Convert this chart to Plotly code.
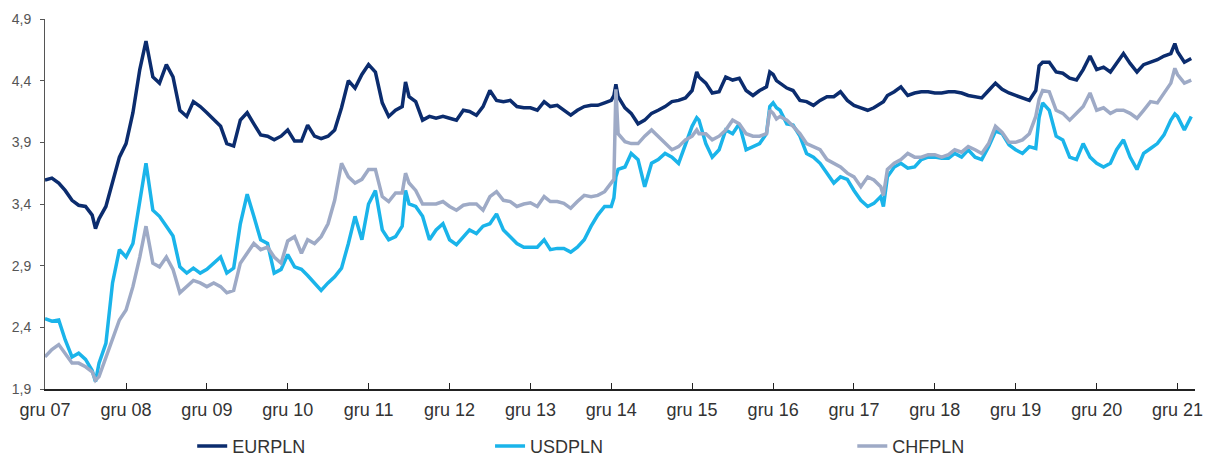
import plotly.graph_objects as go

# Observation dates (monthly, with a few extra mid-month points at sharp moves)
dates = [
    "2007-12-01",
    "2008-01-01", "2008-02-01", "2008-03-01", "2008-04-01", "2008-05-01", "2008-06-01",
    "2008-07-01", "2008-07-16", "2008-08-01", "2008-09-01", "2008-10-01", "2008-11-01", "2008-12-01",
    "2009-01-01", "2009-02-01", "2009-03-01", "2009-04-01", "2009-05-01", "2009-06-01",
    "2009-07-01", "2009-08-01", "2009-09-01", "2009-10-01", "2009-11-01", "2009-12-01",
    "2010-01-01", "2010-02-01", "2010-03-01", "2010-04-01", "2010-05-01", "2010-06-01",
    "2010-07-01", "2010-08-01", "2010-09-01", "2010-10-01", "2010-11-01", "2010-12-01",
    "2011-01-01", "2011-02-01", "2011-03-01", "2011-04-01", "2011-05-01", "2011-06-01",
    "2011-07-01", "2011-08-01", "2011-09-01", "2011-10-01", "2011-11-01", "2011-12-01",
    "2012-01-01", "2012-02-01", "2012-03-01", "2012-04-01", "2012-05-01", "2012-05-16", "2012-06-01",
    "2012-07-01", "2012-08-01", "2012-09-01", "2012-10-01", "2012-11-01", "2012-12-01",
    "2013-01-01", "2013-02-01", "2013-03-01", "2013-04-01", "2013-05-01", "2013-06-01",
    "2013-07-01", "2013-08-01", "2013-09-01", "2013-10-01", "2013-11-01", "2013-12-01",
    "2014-01-01", "2014-02-01", "2014-03-01", "2014-04-01", "2014-05-01", "2014-06-01",
    "2014-07-01", "2014-08-01", "2014-09-01", "2014-10-01", "2014-11-01", "2014-12-01",
    "2014-12-13", "2014-12-22",
    "2015-01-01", "2015-02-01", "2015-03-01", "2015-04-01", "2015-05-01", "2015-06-01",
    "2015-07-01", "2015-08-01", "2015-09-01", "2015-10-01", "2015-11-01", "2015-12-01", "2015-12-22",
    "2016-01-01", "2016-02-01", "2016-03-01", "2016-04-01", "2016-05-01", "2016-06-01",
    "2016-07-01", "2016-08-01", "2016-09-01", "2016-10-01", "2016-11-01", "2016-11-16",
    "2016-12-01", "2016-12-16",
    "2017-01-01", "2017-02-01", "2017-03-01", "2017-04-01", "2017-05-01", "2017-06-01",
    "2017-07-01", "2017-08-01", "2017-09-01", "2017-10-01", "2017-11-01", "2017-12-01",
    "2018-01-01", "2018-02-01", "2018-03-01", "2018-04-01", "2018-04-13", "2018-05-01", "2018-06-01",
    "2018-07-01", "2018-08-01", "2018-09-01", "2018-10-01", "2018-11-01", "2018-12-01",
    "2019-01-01", "2019-02-01", "2019-03-01", "2019-04-01", "2019-05-01", "2019-06-01",
    "2019-07-01", "2019-08-01", "2019-09-01", "2019-10-01", "2019-11-01", "2019-12-01",
    "2020-01-01", "2020-02-01", "2020-03-01", "2020-03-16", "2020-04-01", "2020-05-01", "2020-06-01",
    "2020-07-01", "2020-08-01", "2020-09-01", "2020-10-01", "2020-11-01", "2020-12-01",
    "2021-01-01", "2021-02-01", "2021-03-01", "2021-04-01", "2021-05-01", "2021-06-01",
    "2021-07-01", "2021-08-01", "2021-09-01", "2021-10-01", "2021-11-01", "2021-11-19", "2021-12-01",
    "2022-01-01", "2022-02-01",
]

eurpln = [
    3.595,
    3.61, 3.57, 3.51, 3.43, 3.39, 3.38,
    3.31, 3.20, 3.28, 3.38, 3.57, 3.78, 3.89,
    4.14, 4.49, 4.72, 4.43, 4.38, 4.53,
    4.43, 4.16, 4.11, 4.23, 4.19, 4.14,
    4.08, 4.03, 3.89, 3.87, 4.08, 4.14,
    4.05, 3.96, 3.95, 3.92, 3.95, 4.00,
    3.91, 3.91, 4.04, 3.95, 3.93, 3.95,
    4.00, 4.18, 4.40, 4.34, 4.45, 4.53,
    4.47, 4.22, 4.11, 4.16, 4.19, 4.39, 4.27,
    4.23, 4.08, 4.11, 4.095, 4.11, 4.095,
    4.08, 4.16, 4.15, 4.12, 4.19, 4.32,
    4.24, 4.23, 4.24, 4.19, 4.18, 4.18,
    4.16, 4.23, 4.19, 4.20, 4.16, 4.12,
    4.16, 4.19, 4.20, 4.20, 4.22, 4.24,
    4.28, 4.37,
    4.27, 4.18, 4.135, 4.05, 4.08, 4.135,
    4.16, 4.19, 4.23, 4.24, 4.26, 4.32, 4.47,
    4.43, 4.38, 4.30, 4.31, 4.43, 4.405,
    4.42, 4.32, 4.28, 4.32, 4.35, 4.47,
    4.45, 4.40,
    4.38, 4.34, 4.32, 4.24, 4.23, 4.20,
    4.24, 4.27, 4.27, 4.31, 4.24, 4.20,
    4.18, 4.16, 4.18, 4.22, 4.23, 4.28, 4.31,
    4.35, 4.28, 4.30, 4.31, 4.31, 4.30,
    4.30, 4.31, 4.31, 4.30, 4.28, 4.27,
    4.26, 4.32, 4.38, 4.33, 4.30, 4.28,
    4.26, 4.24, 4.32, 4.52, 4.55, 4.55, 4.47,
    4.46, 4.42, 4.405, 4.49, 4.60, 4.49,
    4.51, 4.47, 4.54, 4.62, 4.54, 4.47,
    4.53, 4.55, 4.57, 4.60, 4.62, 4.70, 4.635,
    4.55, 4.58,
]

usdpln = [
    2.47,
    2.45, 2.46, 2.30, 2.16, 2.19, 2.14,
    2.05, 1.96, 2.11, 2.27, 2.76, 3.03, 2.97,
    3.08, 3.40, 3.73, 3.35, 3.30, 3.22,
    3.14, 2.89, 2.84, 2.88, 2.84, 2.87,
    2.92, 2.97, 2.84, 2.88, 3.24, 3.48,
    3.30, 3.11, 3.08, 2.84, 2.87, 2.99,
    2.89, 2.87, 2.82, 2.76, 2.70, 2.76,
    2.81, 2.88, 3.08, 3.30, 3.11, 3.40,
    3.51, 3.19, 3.11, 3.135, 3.22, 3.51, 3.40,
    3.38, 3.30, 3.11, 3.19, 3.24, 3.11,
    3.07, 3.135, 3.19, 3.16, 3.22, 3.24,
    3.32, 3.19, 3.135, 3.08, 3.05, 3.05,
    3.05, 3.11, 3.03, 3.04, 3.04, 3.01,
    3.05, 3.11, 3.22, 3.31, 3.38, 3.38,
    3.45, 3.62,
    3.68, 3.70, 3.81, 3.76, 3.54, 3.73,
    3.76, 3.81, 3.78, 3.73, 3.89, 4.03, 4.10,
    4.08, 3.89, 3.78, 3.84, 4.00, 3.97,
    4.05, 3.84, 3.865, 3.89, 3.97, 4.19,
    4.22, 4.18,
    4.16, 4.05, 4.04, 3.95, 3.81, 3.78,
    3.73, 3.65, 3.57, 3.62, 3.60, 3.51,
    3.43, 3.38, 3.405, 3.46, 3.38, 3.62, 3.70,
    3.73, 3.69, 3.70, 3.76, 3.78, 3.78,
    3.77, 3.77, 3.81, 3.78, 3.84, 3.78,
    3.76, 3.865, 3.99, 3.97, 3.88, 3.84,
    3.81, 3.865, 3.85, 4.10, 4.22, 4.16, 3.95,
    3.92, 3.78, 3.76, 3.89, 3.78, 3.73,
    3.70, 3.73, 3.84, 3.92, 3.78, 3.68,
    3.81, 3.85, 3.89, 3.96, 4.08, 4.13, 4.11,
    4.00, 4.11,
]

chfpln = [
    2.16,
    2.22, 2.26, 2.19, 2.11, 2.11, 2.08,
    2.04, 1.97, 2.00, 2.16, 2.32, 2.46, 2.54,
    2.73, 2.97, 3.22, 2.92, 2.89, 2.97,
    2.87, 2.68, 2.73, 2.78, 2.76, 2.73,
    2.76, 2.73, 2.68, 2.70, 2.92, 3.00,
    3.08, 3.03, 3.05, 2.97, 2.92, 3.10,
    3.135, 3.00, 3.11, 3.08, 3.135, 3.24,
    3.43, 3.73, 3.62, 3.57, 3.60, 3.68,
    3.68, 3.46, 3.42, 3.49, 3.49, 3.65, 3.57,
    3.51, 3.40, 3.40, 3.40, 3.42, 3.38,
    3.35, 3.39, 3.40, 3.40, 3.35, 3.46,
    3.50, 3.43, 3.42, 3.38, 3.40, 3.41,
    3.38, 3.46, 3.42, 3.42, 3.405, 3.365,
    3.42, 3.47, 3.46, 3.47, 3.50, 3.57,
    3.60, 4.33,
    3.97, 3.905, 3.89, 3.89, 3.95, 4.00,
    3.95, 3.89, 3.84, 3.865, 3.92, 3.95, 4.00,
    3.97, 3.97, 3.92, 3.95, 4.00, 4.08,
    4.05, 3.97, 3.95, 3.95, 3.97, 4.16,
    4.135, 4.09,
    4.11, 4.08, 4.03, 3.97, 3.89, 3.865,
    3.84, 3.76, 3.73, 3.70, 3.65, 3.62,
    3.54, 3.62, 3.595, 3.54, 3.47, 3.68, 3.73,
    3.76, 3.81, 3.78, 3.78, 3.80, 3.80,
    3.78, 3.80, 3.84, 3.82, 3.865, 3.84,
    3.81, 3.89, 4.03, 3.98, 3.90, 3.90,
    3.92, 3.97, 4.11, 4.25, 4.32, 4.31, 4.16,
    4.135, 4.08, 4.135, 4.19, 4.30, 4.16,
    4.18, 4.135, 4.16, 4.16, 4.135, 4.095,
    4.16, 4.23, 4.22, 4.30, 4.38, 4.50, 4.45,
    4.38, 4.405,
]

series_names = ["EURPLN", "USDPLN", "CHFPLN"]
series_colors = ["#0b2c6e", "#1ab4ea", "#9eaac6"]

tick_dates = ["2007-12-01", "2008-12-01", "2009-12-01", "2010-12-01", "2011-12-01",
              "2012-12-01", "2013-12-01", "2014-12-01", "2015-12-01", "2016-12-01",
              "2017-12-01", "2018-12-01", "2019-12-01", "2020-12-01", "2021-12-01"]
tick_labels = ["gru 07", "gru 08", "gru 09", "gru 10", "gru 11", "gru 12", "gru 13",
               "gru 14", "gru 15", "gru 16", "gru 17", "gru 18", "gru 19", "gru 20", "gru 21"]
y_ticks = [1.9, 2.4, 2.9, 3.4, 3.9, 4.4, 4.9]
y_tick_labels = ["1,9", "2,4", "2,9", "3,4", "3,9", "4,4", "4,9"]

fig = go.Figure()
legend_ids = ["legend", "legend2", "legend3"]
for name, vals, col, lg in zip(series_names, [eurpln, usdpln, chfpln], series_colors, legend_ids):
    fig.add_trace(go.Scatter(
        x=dates, y=vals, mode="lines", name=name,
        line=dict(color=col, width=3.5),
        legend=lg, showlegend=True,
    ))

legend_common = dict(
    orientation="h", yanchor="middle", y=-0.155, xanchor="left",
    font=dict(family="Liberation Sans, Arial, sans-serif", size=18, color="#333333"),
    bgcolor="rgba(0,0,0,0)", borderwidth=0,
)

fig.update_layout(
    width=1206, height=459,
    showlegend=True,
    margin=dict(l=45, r=11, t=19, b=70, autoexpand=False),
    paper_bgcolor="white", plot_bgcolor="white",
    font=dict(family="Liberation Sans, Arial, sans-serif"),
    legend=dict(x=0.128, **legend_common),
    legend2=dict(x=0.387, **legend_common),
    legend3=dict(x=0.702, **legend_common),
    xaxis=dict(
        type="date",
        range=["2007-12-01", "2022-02-18"],
        tickmode="array", tickvals=tick_dates, ticktext=tick_labels,
        ticks="inside", ticklen=6, tickcolor="#222222", tickwidth=1,
        showline=True, linecolor="#222222", linewidth=1.5,
        showgrid=False, zeroline=False,
        tickfont=dict(size=18, color="#333333"),
        ticklabelstandoff=4,
    ),
    yaxis=dict(
        range=[1.9, 4.9],
        tickmode="array", tickvals=y_ticks, ticktext=y_tick_labels,
        ticks="outside", ticklen=4, tickcolor="#555555",
        showline=True, linecolor="#555555", linewidth=1,
        showgrid=False, zeroline=False,
        tickfont=dict(size=14, color="#555555"),
        ticklabelstandoff=6,
    ),
)

fig.write_html("out.html")
